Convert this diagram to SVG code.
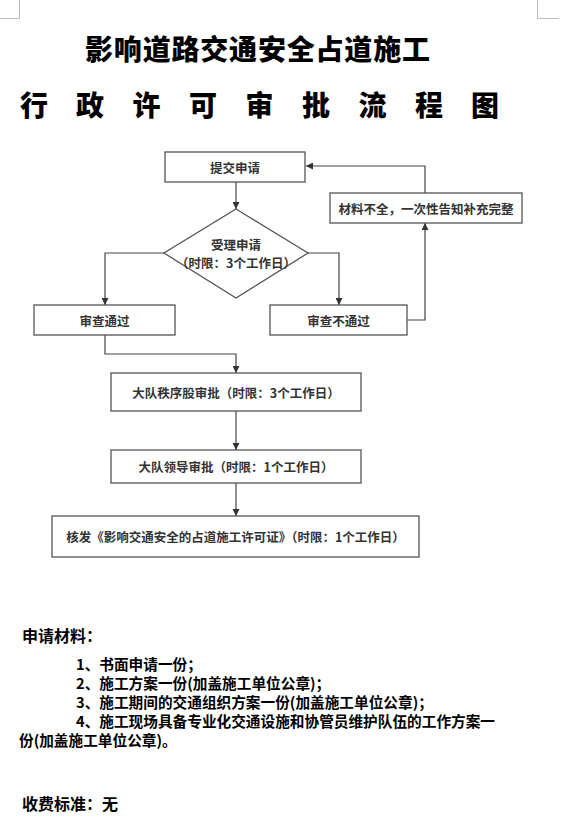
<svg xmlns="http://www.w3.org/2000/svg" width="573" height="839" viewBox="0 0 573 839">
<style>
.box{fill:#fff;stroke:#555;stroke-width:1.3}
.lbl{font-family:"Noto Sans CJK SC","Noto Sans",sans-serif;font-weight:700;font-size:12.5px;fill:#333;text-anchor:middle;dominant-baseline:central}
.con{fill:none;stroke:#444;stroke-width:1.2}
.title{font-family:"Noto Sans CJK SC",sans-serif;font-weight:900;font-size:28px;fill:#000}
.body{font-family:"Noto Sans CJK SC",sans-serif;font-weight:700;fill:#000;dominant-baseline:central}
.mark{stroke:#bbb;stroke-width:1;fill:none}
</style>
<defs>
<marker id="ah" viewBox="0 0 10 10" refX="10" refY="5" markerWidth="7" markerHeight="7" markerUnits="userSpaceOnUse" orient="auto">
<path d="M0,0 L10,5 L0,10 z" fill="#333"/>
</marker>
</defs>
<rect width="573" height="839" fill="#fff"/>
<path class="mark" d="M19.5,0 V18.5 H0 M537.5,0 V18.5 H559"/>
<text class="title" x="85" y="48" dominant-baseline="central" textLength="345">影响道路交通安全占道施工</text>
<g class="title" dominant-baseline="central">
<text x="20" y="104" dominant-baseline="central">行</text>
<text x="76" y="104" dominant-baseline="central">政</text>
<text x="132.5" y="104" dominant-baseline="central">许</text>
<text x="189" y="104" dominant-baseline="central">可</text>
<text x="245.5" y="104" dominant-baseline="central">审</text>
<text x="302" y="104" dominant-baseline="central">批</text>
<text x="358.5" y="104" dominant-baseline="central">流</text>
<text x="415" y="104" dominant-baseline="central">程</text>
<text x="471" y="104" dominant-baseline="central">图</text>
</g>
<g id="connectors">
<path class="con" d="M236,182 V209" marker-end="url(#ah)"/>
<path class="con" d="M164,253 H105 V305" marker-end="url(#ah)"/>
<path class="con" d="M308,253 H339 V305" marker-end="url(#ah)"/>
<path class="con" d="M407,320 H425 V223" marker-end="url(#ah)"/>
<path class="con" d="M425,193 V166 H306" marker-end="url(#ah)"/>
<path class="con" d="M105,335 V354 H236 V373" marker-end="url(#ah)"/>
<path class="con" d="M236,411 V450" marker-end="url(#ah)"/>
<path class="con" d="M236,483 V516" marker-end="url(#ah)"/>
</g>
<g id="n-submit"><rect class="box" x="165" y="152" width="140" height="30"/><text class="lbl" x="235" y="167">提交申请</text></g>
<g id="n-accept"><path class="box" d="M236,209 L308,253 L236,298 L164,253 Z"/><text class="lbl" x="236" y="244.5" font-size="12">受理申请</text><text class="lbl" x="236" y="262.5" font-size="12">（时限：3个工作日）</text></g>
<g id="n-pass"><rect class="box" x="34" y="305" width="141" height="30"/><text class="lbl" x="104.5" y="320">审查通过</text></g>
<g id="n-fail"><rect class="box" x="270" y="305" width="137" height="30"/><text class="lbl" x="338.5" y="320">审查不通过</text></g>
<g id="n-supplement"><rect class="box" x="330" y="193" width="192" height="30"/><text class="lbl" x="426" y="208">材料不全，一次性告知补充完整</text></g>
<g id="n-order"><rect class="box" x="111" y="373" width="250" height="38"/><text class="lbl" x="236" y="392">大队秩序股审批（时限：3个工作日）</text></g>
<g id="n-leader"><rect class="box" x="111" y="450" width="250" height="33"/><text class="lbl" x="236" y="466.5">大队领导审批（时限：1个工作日）</text></g>
<g id="n-issue"><rect class="box" x="52" y="516" width="367" height="41"/><text class="lbl" x="235.5" y="536.5">核发《影响交通安全的占道施工许可证》（时限：1个工作日）</text></g>
<text class="body" x="22" y="635" font-size="16">申请材料：</text>
<g class="body" font-size="14.67">
<text class="body" x="76" y="663">1、书面申请一份；</text>
<text class="body" x="76" y="682">2、施工方案一份(加盖施工单位公章)；</text>
<text class="body" x="76" y="701">3、施工期间的交通组织方案一份(加盖施工单位公章)；</text>
<text class="body" x="76" y="720">4、施工现场具备专业化交通设施和协管员维护队伍的工作方案一</text>
<text class="body" x="19" y="739">份(加盖施工单位公章)。</text>
</g>
<text class="body" x="22" y="803" font-size="16">收费标准：无</text>
</svg>
